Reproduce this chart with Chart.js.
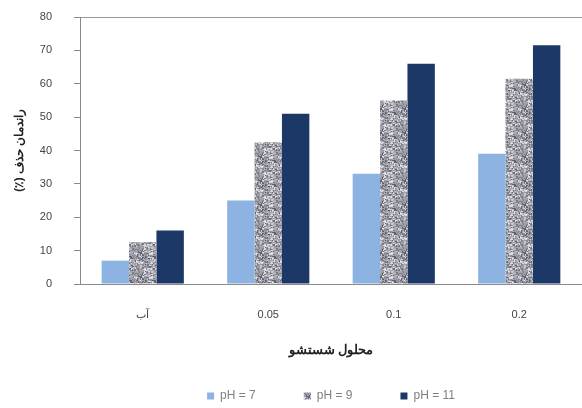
<!DOCTYPE html>
<html>
<head>
<meta charset="utf-8">
<script src="https://cdn.jsdelivr.net/npm/chart.js@4.4.0/dist/chart.umd.min.js"></script>
<style>
  html, body { margin: 0; padding: 0; background: #fff; }
  #wrap { width: 582px; height: 408px; }
</style>
</head>
<body>
<div id="wrap"><canvas id="chart"></canvas></div>
<script>
// categories (washing solution) and removal efficiency per pH
var categories = ['آب', '0.05', '0.1', '0.2'];
var ph7 = [7, 25, 33, 39];
var ph9 = [12.5, 42.5, 55, 61.5];
var ph11 = [16, 51, 66, 71.5];
var seriesLabels = ['pH = 7', 'pH = 9', 'pH = 11'];
var yTicks = [0, 10, 20, 30, 40, 50, 60, 70, 80];

// speckled grey fill for the middle series
function speckle() {
  var c = document.createElement('canvas');
  c.width = 24; c.height = 24;
  var g = c.getContext('2d');
  g.fillStyle = '#a2a2aa';
  g.fillRect(0, 0, 24, 24);
  var s = 7;
  function next() { s = (s * 1103515245 + 12345) % 2147483648; return s / 2147483648; }
  var shades = ['#5f6272', '#777a88', '#c8c8cc', '#dcdcde', '#8c8894', '#b4b2b8'];
  for (var i = 0; i < 300; i++) {
    g.fillStyle = shades[Math.floor(next() * shades.length)];
    g.fillRect(Math.floor(next() * 24), Math.floor(next() * 24), 1 + Math.floor(next() * 2), 1 + Math.floor(next() * 2));
  }
  return g.createPattern(c, 'repeat');
}

var grey = '#8a8a8a';
var txt = { family: 'Liberation Sans', size: 11 };

new Chart(document.getElementById('chart'), {
  type: 'bar',
  data: {
    labels: categories,
    datasets: [
      { label: seriesLabels[0], data: ph7, backgroundColor: '#8db3e2' },
      { label: seriesLabels[1], data: ph9, backgroundColor: speckle() },
      { label: seriesLabels[2], data: ph11, backgroundColor: '#1c3867' }
    ]
  },
  options: {
    responsive: true,
    maintainAspectRatio: false,
    animation: false,
    // plot runs a little past the right edge
    layout: { padding: { top: 0, right: -15, bottom: -4, left: 0 } },
    datasets: { bar: { categoryPercentage: 0.655, barPercentage: 1 } },
    plugins: {
      tooltip: { enabled: false },
      legend: {
        position: 'bottom',
        fullSize: false,
        labels: { boxWidth: 7, boxHeight: 7, padding: 48, color: '#808080', font: { family: 'Liberation Sans', size: 12 } }
      }
    },
    scales: {
      x: {
        grid: { display: true, drawOnChartArea: false, tickLength: 0, color: grey },
        border: { color: grey },
        ticks: { color: '#444', font: txt, padding: 24 },
        title: { display: true, text: 'محلول شستشو', color: '#222', font: { family: 'Noto Sans', size: 13, weight: 'bold' }, padding: { top: 0, bottom: -16 } },
        afterFit: function (s) { s.height = 58; }
      },
      y: {
        min: 0, max: 80,
        afterBuildTicks: function (s) { s.ticks = yTicks.map(function (v) { return { value: v }; }); },
        // only the top line (80) runs across the plot
        grid: {
          display: true, tickLength: 6, tickColor: grey,
          color: function (ctx) { return ctx.tick && ctx.tick.value === 80 ? '#999' : 'rgba(0,0,0,0)'; }
        },
        border: { color: grey },
        ticks: { color: '#444', font: txt, padding: 22 },
        title: { display: true, text: '\u202Bراندمان حذف (٪)\u202C', color: '#222', font: { family: 'Noto Sans', size: 12, weight: 'bold' }, padding: { top: 12, bottom: 0 } },
        afterFit: function (s) {
          s.width = 80;
          // the wide label gap should not push the plot down
          s.paddingTop = 17;
          s.paddingBottom = 7;
        }
      }
    }
  }
});
</script>
</body>
</html>
